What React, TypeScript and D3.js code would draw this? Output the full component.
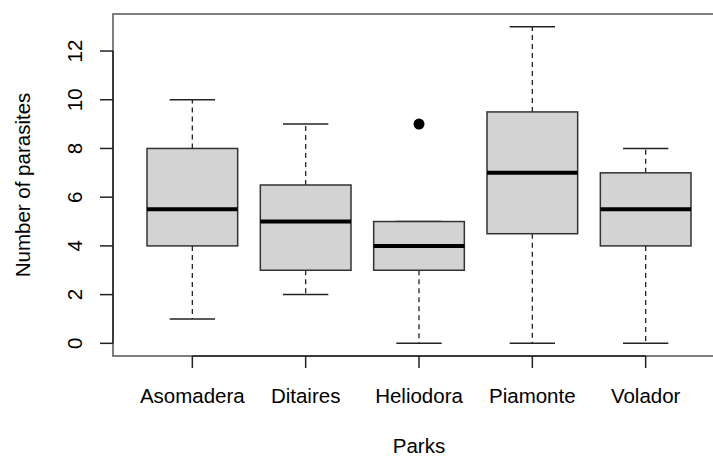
import React from "react";
import * as d3 from "d3";

const categories = ["Asomadera", "Ditaires", "Heliodora", "Piamonte", "Volador"];
const whiskerLow = [1, 2, 0, 0, 0];
const q1 = [4, 3, 3, 4.5, 4];
const medians = [5.5, 5, 4, 7, 5.5];
const q3 = [8, 6.5, 5, 9.5, 7];
const whiskerHigh = [10, 9, 5, 13, 8];
const outliers: { group: number; value: number }[] = [{ group: 2, value: 9 }];
const yTicks = [0, 2, 4, 6, 8, 10, 12];

const W = 713;
const H = 456;
const FONT = "'Liberation Sans', Arial, Helvetica, sans-serif";

export default function App() {
  const x = d3.scaleLinear().domain([0.3, 5.7]).range([113, 725]);
  const y = d3.scaleLinear().domain([-0.52, 13.52]).range([356, 14]);
  const left = 113, top = 14, bottom = 356, right = 725;

  return (
    <svg
      width={W}
      height={H}
      style={{ position: "absolute", left: 0, top: 0, background: "#fff" }}
      fontFamily={FONT}
    >
      {categories.map((c, i) => {
        const cx = x(i + 1);
        const bw = x(1.4) - x(1);
        const cw = x(1.2) - x(1);
        return (
          <g key={c}>
            <line x1={cx} x2={cx} y1={y(q3[i])} y2={y(whiskerHigh[i])} stroke="#222" strokeWidth={1.3} strokeDasharray="5,4" />
            <line x1={cx} x2={cx} y1={y(q1[i])} y2={y(whiskerLow[i])} stroke="#222" strokeWidth={1.3} strokeDasharray="5,4" />
            <line x1={cx - cw} x2={cx + cw} y1={y(whiskerHigh[i])} y2={y(whiskerHigh[i])} stroke="#222" strokeWidth={1.5} />
            <line x1={cx - cw} x2={cx + cw} y1={y(whiskerLow[i])} y2={y(whiskerLow[i])} stroke="#222" strokeWidth={1.5} />
            <rect
              x={cx - bw}
              y={y(q3[i])}
              width={2 * bw}
              height={y(q1[i]) - y(q3[i])}
              fill="#d3d3d3"
              stroke="#333"
              strokeWidth={1.5}
            />
            <line x1={cx - bw} x2={cx + bw} y1={y(medians[i])} y2={y(medians[i])} stroke="#000" strokeWidth={4} />
          </g>
        );
      })}
      {outliers.map((o, k) => (
        <circle key={k} cx={x(o.group + 1)} cy={y(o.value)} r={5.5} fill="#000" />
      ))}
      <rect x={left} y={top} width={right - left} height={bottom - top} fill="none" stroke="#555" strokeWidth={1.5} />
      {/* y axis */}
      <line x1={left} x2={left} y1={y(0)} y2={y(12)} stroke="#222" strokeWidth={1.5} />
      {yTicks.map((t) => (
        <g key={t}>
          <line x1={left - 13} x2={left} y1={y(t)} y2={y(t)} stroke="#222" strokeWidth={1.5} />
          <text
            transform={`translate(82,${y(t)}) rotate(-90)`}
            textAnchor="middle"
            fontSize={20.5}
            fill="#000"
          >
            {t}
          </text>
        </g>
      ))}
      {/* x axis */}
      <line x1={x(1)} x2={x(5)} y1={bottom} y2={bottom} stroke="#222" strokeWidth={1.5} />
      {categories.map((c, i) => (
        <g key={c}>
          <line x1={x(i + 1)} x2={x(i + 1)} y1={bottom} y2={bottom + 12} stroke="#222" strokeWidth={1.5} />
          <text x={x(i + 1)} y={403} textAnchor="middle" fontSize={20.5} fill="#000">
            {c}
          </text>
        </g>
      ))}
      <text x={(left + right) / 2} y={452.5} textAnchor="middle" fontSize={20.5} fill="#000">
        Parks
      </text>
      <text transform={`translate(30,${(top + bottom) / 2}) rotate(-90)`} textAnchor="middle" fontSize={20.5} fill="#000">
        Number of parasites
      </text>
    </svg>
  );
}
